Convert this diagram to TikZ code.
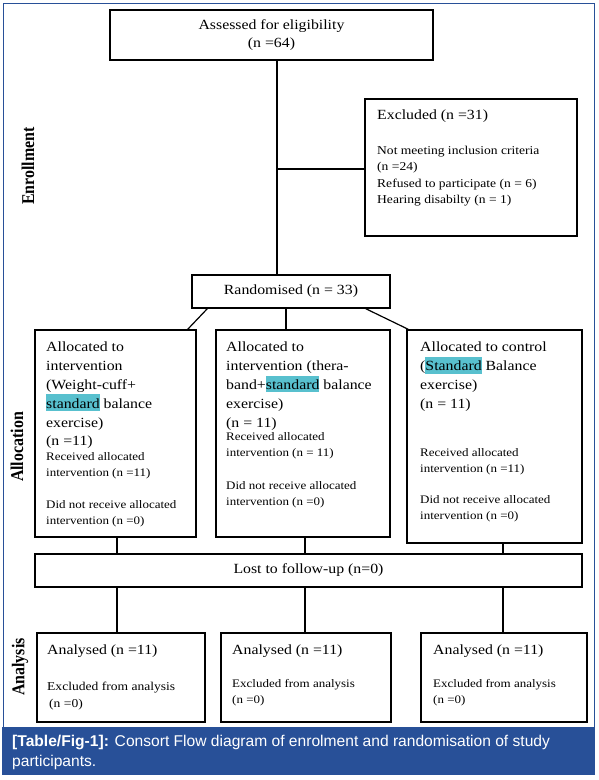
\documentclass[tikz,border=0pt]{standalone}
\usepackage{fontspec}
\setmainfont{Liberation Serif}[FakeStretch=1.13]
\newfontfamily\labfont{Liberation Serif}[FakeStretch=0.885]
\newfontfamily\capfont{Liberation Sans}
\definecolor{frameblue}{RGB}{40,80,152}
\definecolor{hl}{RGB}{88,192,206}
\newcommand\hlw[1]{{\setlength\fboxsep{0pt}\colorbox{hl}{\rule[-0.2em]{0pt}{1.2em}#1}}}
\tikzset{
  box/.style={draw, line width=1.3pt, inner sep=0pt, align=center},
  conn/.style={line width=1.2pt},
  big/.style={inner sep=0pt, anchor=north west, align=left, font=\fontsize{14}{18.8}\selectfont},
  small/.style={inner sep=0pt, anchor=north west, align=left, font=\fontsize{11.5}{16}\selectfont},
  smaller/.style={inner sep=0pt, anchor=north west, align=left, font=\fontsize{12}{16.3}\selectfont},
  phase/.style={rotate=90, inner sep=0pt, font=\labfont\fontsize{18}{18}\selectfont\bfseries},
  frame/.style={draw=frameblue, line width=1pt}
}
\begin{document}
\begin{tikzpicture}[x=1pt,y=-1pt]
\useasboundingbox (0,0) rectangle (598,780);
\fill[white] (0,0) rectangle (598,780);
% frame and caption band
\draw[frame] (3,728) -- (3,3) -- (594,3) -- (594,728);
\fill[frameblue] (2,727) rectangle (595,775);
\node[inner sep=0pt, anchor=north west, align=left, text=white,
      font=\capfont\fontsize{15.6}{20}\selectfont] (cap) at (12,735)
  {\textbf{[Table/Fig-1]:} Consort Flow diagram of enrolment and randomisation of study\\participants.};

% phase labels
\node[phase] (enr) at (28,166) {Enrollment};
\node[phase] (alc) at (17,447) {Allocation};
\node[phase] (ana) at (20,667) {Analysis};

% boxes
\node[box, minimum width=323, minimum height=50, font=\fontsize{14}{18}\selectfont] (assess) at (271.5,35) {Assessed for eligibility\\(n =64)};
\node[box, minimum width=212, minimum height=137] (excl) at (471,167.5) {};
\node[box, minimum width=198, minimum height=33, font=\fontsize{14}{18}\selectfont] (rand) at (291,291.5) {Randomised (n = 33)};
\node[box, minimum width=161, minimum height=207] (a1) at (115.5,433.5) {};
\node[box, minimum width=174, minimum height=207] (a2) at (303,433.5) {};
\node[box, minimum width=175, minimum height=213] (a3) at (494.5,436.5) {};
\node[box, minimum width=547, minimum height=33, font=\fontsize{14}{18}\selectfont] (lost) at (308.5,570.5) {Lost to follow-up (n=0)};
\node[box, minimum width=168, minimum height=89] (b1) at (121,677.5) {};
\node[box, minimum width=170, minimum height=89] (b2) at (306,677.5) {};
\node[box, minimum width=166, minimum height=89] (b3) at (504,677.5) {};

% texts
\node[big] (exclt) at (377,110) {Excluded (n =31)};
\node[smaller] (excls) at (377,146) {Not meeting inclusion criteria\\(n =24)\\Refused to participate (n = 6)\\Hearing disabilty (n = 1)};

\node[big] (a1t) at (46,342) {Allocated to\\intervention\\(Weight-cuff+\\\hlw{standard} balance\\exercise)\\(n =11)};
\node[small] (a1r) at (46,452) {Received allocated\\intervention (n =11)};
\node[small] (a1d) at (46,500) {Did not receive allocated\\intervention (n =0)};

\node[big] (a2t) at (226,342) {Allocated to\\intervention (thera-\\band+\hlw{standard} balance\\exercise)\\(n = 11)};
\node[small] (a2r) at (226,432) {Received allocated\\intervention (n = 11)};
\node[small] (a2d) at (226,481) {Did not receive allocated\\intervention (n =0)};

\node[big] (a3t) at (420,342) {Allocated to control\\(\hlw{Standard} Balance\\exercise)\\(n = 11)};
\node[small] (a3r) at (420,448) {Received allocated\\intervention (n =11)};
\node[small] (a3d) at (420,495) {Did not receive allocated\\intervention (n =0)};

\node[big] (b1t) at (47,645) {Analysed (n =11)};
\node[smaller, font=\fontsize{12}{17}\selectfont] (b1s) at (47,682) {Excluded from analysis\\\hspace{2pt}(n =0)};
\node[big] (b2t) at (232,645) {Analysed (n =11)};
\node[smaller, font=\fontsize{11.5}{16}\selectfont] (b2s) at (232,679) {Excluded from analysis\\(n =0)};
\node[big] (b3t) at (433,645) {Analysed (n =11)};
\node[smaller, font=\fontsize{11.5}{16}\selectfont] (b3s) at (433,679) {Excluded from analysis\\(n =0)};

% connector helper coordinates
\coordinate (spine) at (277,0);
\coordinate (mid) at (286,0);
\coordinate (c1) at (117,0);
\coordinate (c2) at (305,0);
\coordinate (c3) at (503,0);

% connectors
\draw[conn] (assess.south -| spine) -- (rand.north -| spine);
\draw[conn] (excl.west |- 0,169) -- (spine |- 0,169);
\draw[conn] ([xshift=16pt]rand.south west) -- ([xshift=-9pt]a1.north east);
\draw[conn] (rand.south -| mid) -- (a2.north -| mid);
\draw[conn] ([xshift=-25pt]rand.south east) -- ([xshift=2pt]a3.north west);
\draw[conn] (a1.south -| c1) -- (lost.north -| c1);
\draw[conn] (a2.south -| c2) -- (lost.north -| c2);
\draw[conn] (a3.south -| c3) -- (lost.north -| c3);
\draw[conn] (lost.south -| c1) -- (b1.north -| c1);
\draw[conn] (lost.south -| c2) -- (b2.north -| c2);
\draw[conn] (lost.south -| c3) -- (b3.north -| c3);
\end{tikzpicture}
\end{document}
